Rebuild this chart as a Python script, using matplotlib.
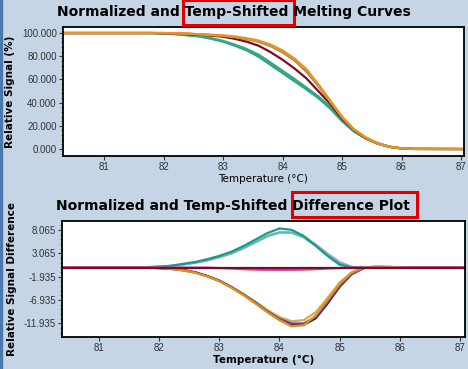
import matplotlib
matplotlib.use('Agg')
import matplotlib.pyplot as plt
from matplotlib.patches import Rectangle
from matplotlib.ticker import AutoMinorLocator, FormatStrFormatter

# temperature grid (deg C) shared by all curves
temps = [80.3, 81.8, 82.0, 82.2, 82.4, 82.6, 82.8, 83.0, 83.2, 83.4, 83.6, 83.8,
         84.0, 84.2, 84.4, 84.6, 84.8, 85.0, 85.2, 85.4, 85.6, 85.8, 86.0, 86.2, 87.1]

# Normalized melting curves (%)
melt_orange = [100, 100, 100, 99.8, 99.5, 99, 98.5, 98, 97, 95.5, 93.5, 90,
               85, 78, 69, 56, 42, 28, 17, 10, 5, 2, 0.6, 0.1, 0]
melt_gold = [100, 100, 100, 99.8, 99.4, 98.9, 98.3, 97.6, 96.6, 95, 92.8, 89.2,
             84, 77, 68, 55, 41, 27.5, 17, 9.8, 4.8, 1.9, 0.6, 0.1, 0]
melt_brown = [100, 100, 100, 99.7, 99.4, 98.8, 98.2, 97.5, 96.4, 94.8, 92.5, 88.8,
              83.5, 76.5, 67, 54.5, 41, 27, 16.5, 9.5, 4.8, 1.9, 0.6, 0.1, 0]
melt_maroon = [100, 100, 99.8, 99.5, 99, 98.5, 97.8, 96.8, 95, 92.5, 89, 83.5,
               77, 69.5, 61, 50, 39, 26, 16.5, 9.5, 5, 2, 0.6, 0.1, 0]
melt_teal = [100, 100, 99.5, 99, 98, 97, 95, 92.5, 89, 85, 79.5, 72.5,
             65.5, 58.5, 51.5, 44, 35, 24, 15, 9, 4.5, 1.8, 0.5, 0.1, 0]
melt_green = [100, 100, 99.6, 99.1, 98.3, 97.3, 95.6, 93.3, 90, 86.2, 81.3, 74.5,
              67.5, 60.5, 53, 45.5, 36.5, 25, 15.5, 9, 4.6, 1.8, 0.5, 0.1, 0]

# Difference curves
diff_teal = [0, 0.1, 0.2, 0.4, 0.8, 1.2, 1.8, 2.5, 3.4, 4.6, 6.0, 7.4,
             8.4, 8.1, 6.8, 4.7, 2.5, 0.6, 0.05, 0, 0, 0, 0, 0, 0]
diff_lteal = [0, 0.1, 0.2, 0.35, 0.7, 1.1, 1.6, 2.3, 3.1, 4.2, 5.5, 6.8,
              7.6, 7.5, 6.5, 4.7, 2.7, 0.9, 0.1, 0, 0, 0, 0, 0, 0]
diff_lilac = [0, 0, 0.1, 0.3, 0.6, 1.0, 1.5, 2.2, 3.0, 4.1, 5.4, 6.7,
              7.5, 7.5, 6.7, 5.0, 3.0, 1.2, 0.15, 0, 0, 0, 0, 0, 0]
diff_pink = [0, 0, 0, 0, 0, 0, 0, -0.1, -0.2, -0.35, -0.45, -0.5,
             -0.5, -0.5, -0.45, -0.35, -0.2, -0.1, 0, 0, 0, 0, 0, 0, 0]
diff_maroon = [0] * 25
diff_orange = [0, 0, -0.1, -0.3, -0.6, -1.1, -1.9, -2.9, -4.3, -5.9, -7.7, -9.6,
               -11.3, -12.6, -12.4, -10.3, -6.9, -3.5, -1.1, 0, 0.25, 0.2, 0.05, 0, 0]
diff_yellow = [0, 0, -0.1, -0.3, -0.6, -1.0, -1.8, -2.8, -4.1, -5.6, -7.3, -9.1,
               -10.6, -11.5, -11.3, -9.6, -6.5, -3.2, -1.0, 0, 0.2, 0.15, 0.05, 0, 0]
diff_navy = [0, 0, -0.1, -0.25, -0.5, -1.0, -1.8, -2.8, -4.2, -5.8, -7.6, -9.5,
             -11.2, -12.3, -12.3, -10.9, -7.7, -4.1, -1.4, -0.1, 0.1, 0.05, 0, 0, 0]
diff_purple = [0, 0, -0.1, -0.25, -0.55, -1.05, -1.85, -2.85, -4.2, -5.8, -7.5, -9.4,
               -11.0, -12.0, -12.0, -10.6, -7.4, -3.9, -1.3, -0.1, 0.1, 0.05, 0, 0, 0]

x_ticks = [81, 82, 83, 84, 85, 86, 87]
melt_yticks = [0, 20, 40, 60, 80, 100]
diff_yticks = [8.065, 3.065, -1.935, -6.935, -11.935]

bg = '#c5d5e6'
fig = plt.figure(figsize=(4.68, 3.69), dpi=100, facecolor=bg)

# left edge strip of the window
fig.patches.append(Rectangle((0, 0), 2 / 468, 1, transform=fig.transFigure,
                             color='#4a78ad', zorder=0))

ax1 = fig.add_axes([63 / 468, 1 - 156 / 369, 401 / 468, 129 / 369])
ax2 = fig.add_axes([62 / 468, 1 - 337 / 369, 403 / 468, 116 / 369])

lw = 1.6
ax1.plot(temps, melt_teal, color='#22a58e', lw=lw)
ax1.plot(temps, melt_green, color='#3aa878', lw=lw)
ax1.plot(temps, melt_maroon, color='#7a0c22', lw=lw)
ax1.plot(temps, melt_brown, color='#8b5a2b', lw=lw)
ax1.plot(temps, melt_gold, color='#c8a048', lw=lw)
ax1.plot(temps, melt_orange, color='#e8912a', lw=lw)

ax2.plot(temps, diff_lilac, color='#c59ad6', lw=lw)
ax2.plot(temps, diff_lteal, color='#5bbdb3', lw=lw)
ax2.plot(temps, diff_teal, color='#1a9a86', lw=lw)
ax2.plot(temps, diff_yellow, color='#cdb24a', lw=lw)
ax2.plot(temps, diff_navy, color='#1c1c6e', lw=lw)
ax2.plot(temps, diff_purple, color='#7a3c8c', lw=lw)
ax2.plot(temps, diff_orange, color='#e0921e', lw=lw)
ax2.plot(temps, diff_pink, color='#c84ab0', lw=lw)
ax2.plot(temps, diff_maroon, color='#7a0c22', lw=lw)

ax1.set_xlim(80.31, 87.05)
ax1.set_ylim(-6, 105.2)
ax1.set_yticks(melt_yticks)
ax2.set_xlim(80.39, 87.08)
ax2.set_ylim(-14.9, 10.0)
ax2.set_yticks(diff_yticks)

for ax in (ax1, ax2):
    ax.set_facecolor('white')
    ax.set_xticks(x_ticks)
    ax.yaxis.set_major_formatter(FormatStrFormatter('%.3f'))
    ax.yaxis.set_minor_locator(AutoMinorLocator(5))
    ax.tick_params(labelsize=7, colors='#333333', length=3, width=0.8, pad=1.5)
    ax.tick_params(which='minor', length=1.8, width=0.6, colors='#555555')
    for lab in ax.get_xticklabels() + ax.get_yticklabels():
        lab.set_fontfamily('Liberation Sans')
    for s in ax.spines.values():
        s.set_color('black')
        s.set_linewidth(1.3)

ax1.set_xlabel('Temperature (°C)', fontsize=7.5, labelpad=1)
ax1.set_ylabel('Relative Signal (%)', fontsize=7.5, fontweight='bold', labelpad=5)
ax2.set_xlabel('Temperature (°C)', fontsize=7.5, fontweight='bold', labelpad=1)
ax2.set_ylabel('Relative Signal Difference', fontsize=7.5, fontweight='bold', labelpad=5)

fig.text(234 / 468, 1 - 12 / 369, 'Normalized and Temp-Shifted Melting Curves',
         ha='center', va='center', fontsize=10, fontweight='bold')
fig.text(233 / 468, 1 - 206 / 369, 'Normalized and Temp-Shifted Difference Plot',
         ha='center', va='center', fontsize=10, fontweight='bold')

# red highlight boxes
fig.patches.append(Rectangle((183 / 468, 1 - 25 / 369), 111 / 468, 25 / 369,
                             transform=fig.transFigure, fill=False,
                             edgecolor='#e00000', lw=2.2))
fig.patches.append(Rectangle((292 / 468, 1 - 217 / 369), 125 / 468, 25 / 369,
                             transform=fig.transFigure, fill=False,
                             edgecolor='#e00000', lw=2.2))

fig.savefig('out.png', dpi=100, facecolor=bg)
